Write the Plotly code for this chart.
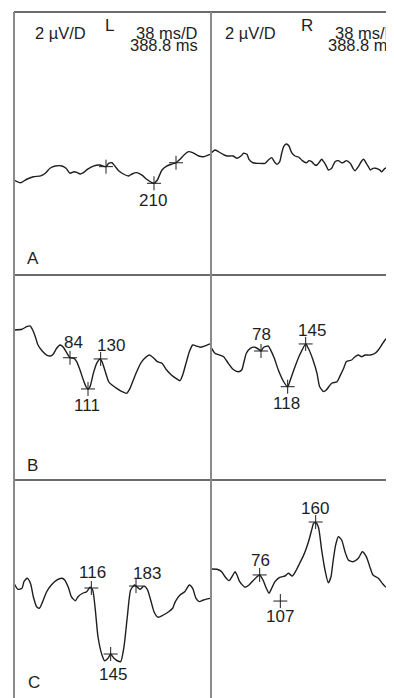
import plotly.graph_objects as go

# ---------------- data (ms, µV) ----------------
# Row A, left
t_AL = [0, 10, 19, 29, 40, 47, 54, 62, 72, 78, 84, 90, 95, 99, 104, 110, 119, 129, 138, 142, 147, 152, 157,
        164, 172, 177, 184, 192, 199, 207, 210, 215, 222, 229, 237, 243, 249, 255, 262, 268, 277, 284, 294]
v_AL = [-1.0, -1.18, -0.95, -0.78, -0.73, -0.55, -0.22, -0.07, -0.07, -0.22, -0.55, -0.45, -0.51, -0.6, -0.51,
        -0.29, -0.07, 0.0, -0.11, 0.11, 0.15, -0.11, -0.38, -0.6, -0.73, -0.6, -0.51, -0.67, -0.95, -1.18, -1.22,
        -1.0, -0.33, -0.07, 0.07, 0.15, 0.38, 0.67, 0.89, 0.82, 0.6, 0.55, 0.71]
# Row A, right
t_AR = [3, 9, 14, 21, 27, 36, 42, 48, 52, 57, 60, 66, 74, 84, 89, 94, 98, 102, 106, 109, 112, 116, 120, 124,
        129, 135, 140, 146, 150, 154, 159, 162, 166, 169, 172, 176, 179, 184, 189, 194, 199, 202, 206, 212, 216,
        219, 224, 229, 232, 236, 239, 242, 246, 250, 256, 259, 264, 268, 272, 276, 278]
v_AR = [0.78, 1.0, 0.89, 0.71, 0.6, 0.6, 0.45, 0.6, 0.78, 0.71, 0.38, 0.15, 0.11, 0.11, 0.33, 0.49, 0.22, 0.05,
        0.22, 0.78, 1.22, 1.4, 1.27, 0.82, 0.6, 0.51, 0.29, 0.15, 0.29, 0.22, 0.0, 0.0, 0.22, 0.38, 0.22, -0.07,
        -0.33, -0.22, 0.22, 0.29, 0.15, 0.18, 0.29, 0.11, -0.22, -0.38, -0.11, 0.27, 0.38, 0.11, -0.11, -0.33,
        -0.22, -0.22, -0.33, -0.45, -0.22, -0.22, -0.55, -0.89, -0.95]
# Row B, left
t_BL = [0, 12, 19, 24, 28, 32, 36, 42, 49, 55, 59, 64, 69, 74, 79, 84, 90, 94, 99, 104, 108, 111, 114, 119,
        124, 129, 132, 137, 142, 147, 154, 162, 169, 174, 179, 184, 190, 196, 203, 209, 215, 222, 229, 236, 243,
        249, 253, 258, 263, 268, 274, 279, 286, 294]
v_BL = [1.0, 1.05, 1.22, 1.27, 1.0, 0.55, 0.0, -0.38, -0.67, -0.73, -0.6, -0.22, 0.0, -0.15, -0.51, -0.85, -0.89,
        -1.11, -1.67, -2.33, -2.78, -2.93, -2.78, -1.89, -1.22, -0.93, -1.11, -1.78, -2.45, -2.67, -2.89, -3.11,
        -3.22, -2.89, -2.33, -1.78, -1.22, -0.89, -0.67, -0.85, -1.11, -1.22, -1.67, -2.0, -2.22, -2.38, -2.0,
        -1.22, -0.45, 0.0, -0.07, -0.15, -0.07, 0.07]
# Row B, right
t_BR = [4, 9, 16, 22, 29, 36, 44, 49, 52, 56, 62, 69, 76, 78, 82, 89, 92, 98, 104, 112, 118, 122, 129, 136, 145,
        149, 156, 162, 166, 172, 176, 184, 192, 196, 202, 206, 214, 219, 224, 229, 234, 242, 249, 254, 259, 264,
        269, 274, 278]
v_BR = [-0.22, -0.55, -0.67, -0.78, -1.22, -1.62, -1.78, -1.67, -1.22, -0.55, -0.22, -0.15, -0.33, -0.4, -0.15,
        -0.07, -0.29, -0.89, -1.67, -2.45, -2.78, -2.33, -1.45, -0.67, 0.07, -0.22, -1.0, -1.89, -2.78, -3.11,
        -3.0, -2.55, -2.45, -2.11, -1.55, -1.11, -1.0, -0.78, -0.67, -0.78, -0.67, -0.67, -0.55, -0.33, 0.0,
        0.33, 0.55, 0.71, 0.71]
# Row C, left
t_CL = [0, 6, 12, 15, 20, 25, 29, 34, 38, 43, 49, 56, 64, 72, 76, 82, 86, 92, 96, 103, 109, 114, 118, 122, 126,
        132, 136, 141, 145, 150, 155, 160, 165, 170, 175, 181, 184, 189, 195, 200, 205, 210, 216, 224, 232, 238,
        242, 249, 256, 263, 268, 273, 278, 284, 294]
v_CL = [0.11, -0.29, -0.22, 0.22, 0.45, 0.07, -0.78, -1.45, -1.55, -1.11, -0.45, 0.0, 0.33, 0.45, 0.33, -0.22,
        -0.78, -1.05, -0.78, -0.55, -0.45, -0.15, -0.33, -1.67, -3.45, -4.67, -5.05, -4.89, -4.6, -4.89, -5.05,
        -5.11, -4.11, -2.11, -0.33, 0.0, -0.11, -0.29, -0.07, -0.29, -1.0, -1.78, -2.15, -2.0, -1.78, -1.55,
        -1.11, -0.67, -0.45, 0.0, -0.22, -0.89, -1.11, -1.0, -0.89]
# Row C, right
t_CR = [4, 12, 19, 24, 30, 36, 39, 42, 46, 54, 60, 66, 72, 76, 81, 86, 90, 94, 99, 106, 114, 119, 125, 131, 136,
        141, 146, 150, 154, 157, 160, 164, 169, 174, 179, 183, 186, 190, 194, 199, 204, 209, 216, 224, 230, 236,
        242, 246, 254, 260, 266, 270, 274, 278]
v_CR = [1.07, 1.05, 0.89, 0.55, 0.29, 0.67, 0.89, 0.67, 0.22, -0.15, 0.0, 0.29, 0.55, 0.67, 0.33, -0.22, -0.55,
        -0.22, 0.22, 0.51, 0.6, 0.78, 0.6, 1.0, 1.45, 1.89, 2.45, 3.0, 3.67, 4.11, 4.15, 3.89, 2.33, 1.0, 0.15,
        0.55, 1.55, 2.67, 3.22, 3.0, 2.22, 1.67, 1.55, 1.78, 2.22, 1.89, 1.11, 0.67, 0.45, 0.11, -0.15, 0.33,
        0.89, 1.27]

# peak markers (ms, µV, label)
mk_AL_t = [138, 210, 243]
mk_AL_v = [-0.11, -1.22, 0.15]
mk_AL_lab = ["", "210", ""]
mk_AR_t, mk_AR_v, mk_AR_lab = [], [], []
mk_BL_t = [84, 111, 130]
mk_BL_v = [-0.85, -2.93, -0.93]
mk_BL_lab = ["84", "111", "130"]
mk_BR_t = [78, 118, 145]
mk_BR_v = [-0.4, -2.78, 0.07]
mk_BR_lab = ["78", "118", "145"]
mk_CL_t = [116, 145, 183]
mk_CL_v = [-0.2, -4.6, -0.07]
mk_CL_lab = ["116", "145", "183"]
mk_CR_t = [76, 107, 160]
mk_CR_v = [0.67, -1.07, 4.2]
mk_CR_lab = ["76", "107", "160"]

# label offsets in px (layout/style)
off_AL = [(0, 0), (-1, -17), (0, 0)]
off_AR = []
off_BL = [(3, 15), (-1, -17), (10, 13)]
off_BR = [(0, 17), (-1, -17), (6, 13)]
off_CL = [(1, 16), (2, -20), (11, 13)]
off_CR = [(1, 14), (0, -15), (-1, 14)]

# page body has an 8 px margin; the figure is sized so it ends at the window edge
OFF = 8
W, H = 394 - OFF, 698 - OFF
FONT = "Liberation Sans, Arial, Helvetica, sans-serif"
INK = "#1e1e1e"


def px(x):
    return (x - OFF) / W


def py(y):
    return 1 - (y - OFF) / H


col_dom = [[px(14), px(211)], [px(211), 1.0]]
col_rng = [[0, 295.5], [3, 277.5]]
row_dom = [[py(275), py(12)], [py(480), py(275)], [0.0, py(480)]]
row_rng = [[-7.333, 10.2], [-9.0, 4.667], [-7.533, 7.0]]

panels = [
    (0, 0, t_AL, v_AL, mk_AL_t, mk_AL_v, mk_AL_lab, off_AL),
    (0, 1, t_AR, v_AR, mk_AR_t, mk_AR_v, mk_AR_lab, off_AR),
    (1, 0, t_BL, v_BL, mk_BL_t, mk_BL_v, mk_BL_lab, off_BL),
    (1, 1, t_BR, v_BR, mk_BR_t, mk_BR_v, mk_BR_lab, off_BR),
    (2, 0, t_CL, v_CL, mk_CL_t, mk_CL_v, mk_CL_lab, off_CL),
    (2, 1, t_CR, v_CR, mk_CR_t, mk_CR_v, mk_CR_lab, off_CR),
]

fig = go.Figure()
layout = {}
annotations = []
for i, (r, c, t, v, mt, mv, ml, off) in enumerate(panels, start=1):
    xa = "x" if i == 1 else f"x{i}"
    ya = "y" if i == 1 else f"y{i}"
    layout["xaxis" if i == 1 else f"xaxis{i}"] = dict(domain=col_dom[c], range=col_rng[c], visible=False,
                                                      anchor=ya, fixedrange=True)
    layout["yaxis" if i == 1 else f"yaxis{i}"] = dict(domain=row_dom[r], range=row_rng[r], visible=False,
                                                      anchor=xa, fixedrange=True)
    fig.add_trace(go.Scatter(x=t, y=v, mode="lines", xaxis=xa, yaxis=ya,
                             line=dict(color=INK, width=1.4, shape="spline", smoothing=0.6),
                             hoverinfo="skip", showlegend=False, cliponaxis=False))
    if mt:
        fig.add_trace(go.Scatter(x=mt, y=mv, mode="markers", xaxis=xa, yaxis=ya,
                                 marker=dict(symbol="cross-thin", size=10, line=dict(color=INK, width=1)),
                                 hoverinfo="skip", showlegend=False, cliponaxis=False))
    for tt, vv, lab, (dx, dy) in zip(mt, mv, ml, off):
        if lab:
            annotations.append(dict(x=tt, y=vv, xref=xa, yref=ya, text=lab, showarrow=False,
                                    xshift=dx, yshift=dy, xanchor="center", yanchor="middle",
                                    font=dict(family=FONT, size=17, color=INK)))


def ptext(text, x, y, anchor="left", size=16.5):
    annotations.append(dict(x=px(x), y=py(y), xref="paper", yref="paper", text=text, showarrow=False,
                            xanchor=anchor, yanchor="middle", font=dict(family=FONT, size=size, color=INK)))


ptext("2 µV/D", 33, 33)
ptext("L", 109.5, 26, "center", 17)
ptext("38 ms/D", 200, 33, "right")
ptext("388.8 ms", 200, 45, "right")
ptext("2 µV/D", 223, 33)
ptext("R", 307, 26, "center", 17)
ptext("38 ms/D", 333, 33)
ptext("388.8 ms", 326, 45)
ptext("A", 33, 258, "center", 17)
ptext("B", 33, 465, "center", 17)
ptext("C", 34, 682, "center", 17)

shapes = [
    dict(type="line", xref="paper", yref="paper", x0=px(14), x1=1.0, y0=py(12), y1=py(12),
         line=dict(color="#3a3a3a", width=1.5)),
    dict(type="line", xref="paper", yref="paper", x0=px(14), x1=1.0, y0=py(275), y1=py(275),
         line=dict(color="#3a3a3a", width=1.5)),
    dict(type="line", xref="paper", yref="paper", x0=px(14), x1=1.0, y0=py(480), y1=py(480),
         line=dict(color="#3a3a3a", width=1.5)),
    dict(type="line", xref="paper", yref="paper", x0=px(14), x1=px(14), y0=py(12), y1=0,
         line=dict(color="#8a8a8a", width=2)),
    dict(type="line", xref="paper", yref="paper", x0=px(211), x1=px(211), y0=py(12), y1=0,
         line=dict(color="#8a8a8a", width=2)),
]

fig.update_layout(width=W, height=H, margin=dict(l=0, r=0, t=0, b=0), paper_bgcolor="white",
                  plot_bgcolor="white", annotations=annotations, shapes=shapes, **layout)
fig.write_html("out.html", config={"displayModeBar": False})
